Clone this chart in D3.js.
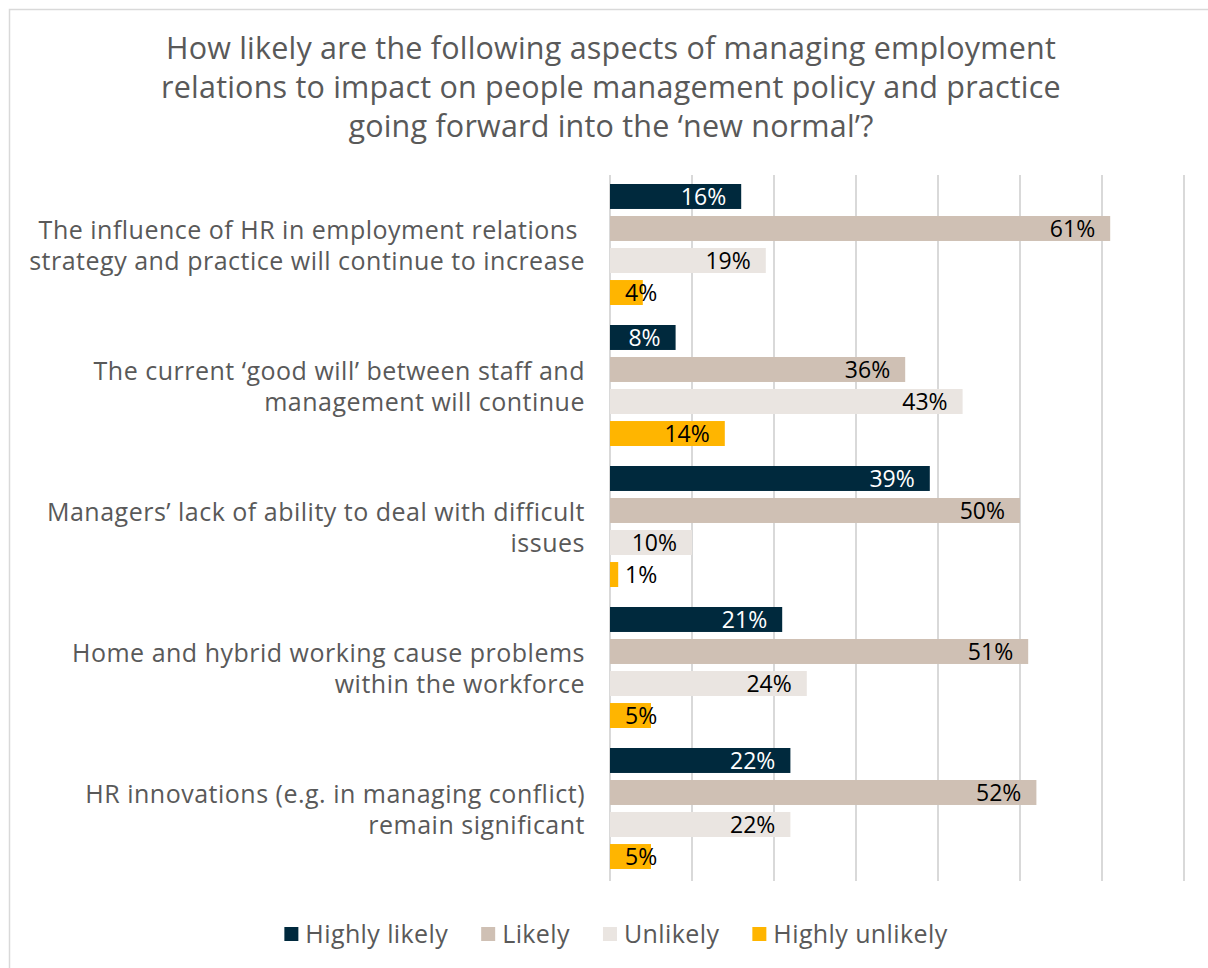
<!DOCTYPE html>
<html>
<head>
<meta charset="utf-8">
<script src="https://cdn.jsdelivr.net/npm/d3@7"></script>
<style>
  html, body { margin: 0; padding: 0; background: #ffffff; }
  svg { display: block; }
  text { font-family: "Open Sans", "Noto Sans", sans-serif; white-space: pre; }
</style>
</head>
<body>
<svg id="chart" width="1208" height="968"></svg>
<script>
// Survey question shown as the chart title
const titleLines = [
  "How likely are the following aspects of managing employment",
  "relations to impact on people management policy and practice",
  "going forward into the \u2018new normal\u2019?"
];

// Statements (explicit line breaks for the axis labels)
const categories = [
  "The influence of HR in employment relations\u00a0\nstrategy and practice will continue to increase",
  "The current \u2018good will\u2019 between staff and\nmanagement will continue",
  "Managers\u2019 lack of ability to deal with difficult\nissues",
  "Home and hybrid working cause problems\nwithin the workforce",
  "HR innovations (e.g. in managing conflict)\nremain significant"
];

// Response shares, percent of respondents
const seriesNames = ["Highly likely", "Likely", "Unlikely", "Highly unlikely"];
const highlyLikely   = [16, 8, 39, 21, 22];
const likely         = [61, 36, 50, 51, 52];
const unlikely       = [19, 43, 10, 24, 22];
const highlyUnlikely = [4, 14, 1, 5, 5];

// Value axis gridline positions (percent)
const gridTicks = [0, 10, 20, 30, 40, 50, 60, 70];

const seriesValues = [highlyLikely, likely, unlikely, highlyUnlikely];
const colors = ["#00293d", "#cfc0b4", "#eae5e1", "#ffb500"];
const labelColors = ["#ffffff", "#000000", "#000000", "#000000"];

const svg = d3.select("#chart");

// chart frame
svg.append("rect")
  .attr("x", 9.5).attr("y", 9.5)
  .attr("width", 1220).attr("height", 980)
  .attr("fill", "#ffffff")
  .attr("stroke", "#d9d9d9")
  .attr("stroke-width", 1.5);

// title
const title = svg.append("text")
  .attr("text-anchor", "middle")
  .attr("fill", "#595959")
  .style("font-size", "30.5px")
  .style("letter-spacing", "0.2px");
titleLines.forEach((line, i) => {
  title.append("tspan")
    .attr("x", 611)
    .attr("y", 59 + i * 39)
    .text(line);
});

// scales
const x = d3.scaleLinear().domain([0, 70]).range([610, 1184]);
const y0 = d3.scaleBand().domain(d3.range(categories.length)).range([175, 880]).padding(0);
const y1 = d3.scaleBand().domain(d3.range(seriesNames.length))
  .range([9, y0.bandwidth() - 11]).paddingInner(0.22).paddingOuter(0);

// vertical gridlines
svg.append("g")
  .selectAll("line")
  .data(gridTicks)
  .join("line")
  .attr("x1", d => x(d)).attr("x2", d => x(d))
  .attr("y1", 175).attr("y2", 881)
  .attr("stroke", "#d9d9d9")
  .attr("stroke-width", 2);

// category labels
const catG = svg.append("g");
categories.forEach((cat, i) => {
  const lines = cat.split("\n");
  const cy = y0(i) + y0.bandwidth() / 2;
  const t = catG.append("text")
    .attr("text-anchor", "end")
    .attr("fill", "#595959")
    .style("font-size", "25px")
    .style("letter-spacing", "0.5px");
  lines.forEach((line, j) => {
    t.append("tspan")
      .attr("x", 585)
      .attr("y", cy + (j - (lines.length - 1) / 2) * 31 + 9)
      .text(line);
  });
});

// bars and value labels
const rows = categories.map((c, i) => ({
  i,
  values: seriesValues.map((vals, s) => ({ s, v: vals[i] }))
}));

const groups = svg.append("g")
  .selectAll("g")
  .data(rows)
  .join("g")
  .attr("transform", d => `translate(0,${y0(d.i)})`);

groups.selectAll("rect")
  .data(d => d.values)
  .join("rect")
  .attr("x", x(0))
  .attr("y", d => y1(d.s))
  .attr("width", d => x(d.v) - x(0))
  .attr("height", y1.bandwidth())
  .attr("fill", d => colors[d.s]);

groups.selectAll("text")
  .data(d => d.values)
  .join("text")
  .attr("y", d => y1(d.s) + y1.bandwidth() / 2 + 8.5)
  .style("font-size", "23px")
  .text(d => d.v + "%")
  .each(function (d) {
    const w = this.getComputedTextLength();
    let right = x(d.v) - 15;
    if (right - w < x(0) + 15) right = x(0) + 15 + w;
    d3.select(this).attr("x", right).attr("text-anchor", "end")
      .attr("fill", (right - w) > x(d.v) - 2 ? "#000000" : labelColors[d.s]);
  });

// legend
const legend = svg.append("g");
const swatch = 14, gapText = 7, gapItem = 33;
let lx = 0;
seriesNames.forEach((name, s) => {
  const g = legend.append("g");
  g.append("rect")
    .attr("y", 927).attr("width", swatch).attr("height", swatch)
    .attr("fill", colors[s]);
  const t = g.append("text")
    .attr("x", swatch + gapText)
    .attr("y", 943)
    .attr("fill", "#595959")
    .style("font-size", "25px")
    .style("letter-spacing", "0.4px")
    .text(name);
  const w = swatch + gapText + t.node().getComputedTextLength();
  g.attr("transform", `translate(${lx},0)`);
  lx += w + gapItem;
});
const totalW = lx - gapItem;
legend.attr("transform", `translate(${616 - totalW / 2},0)`);
</script>
</body>
</html>
